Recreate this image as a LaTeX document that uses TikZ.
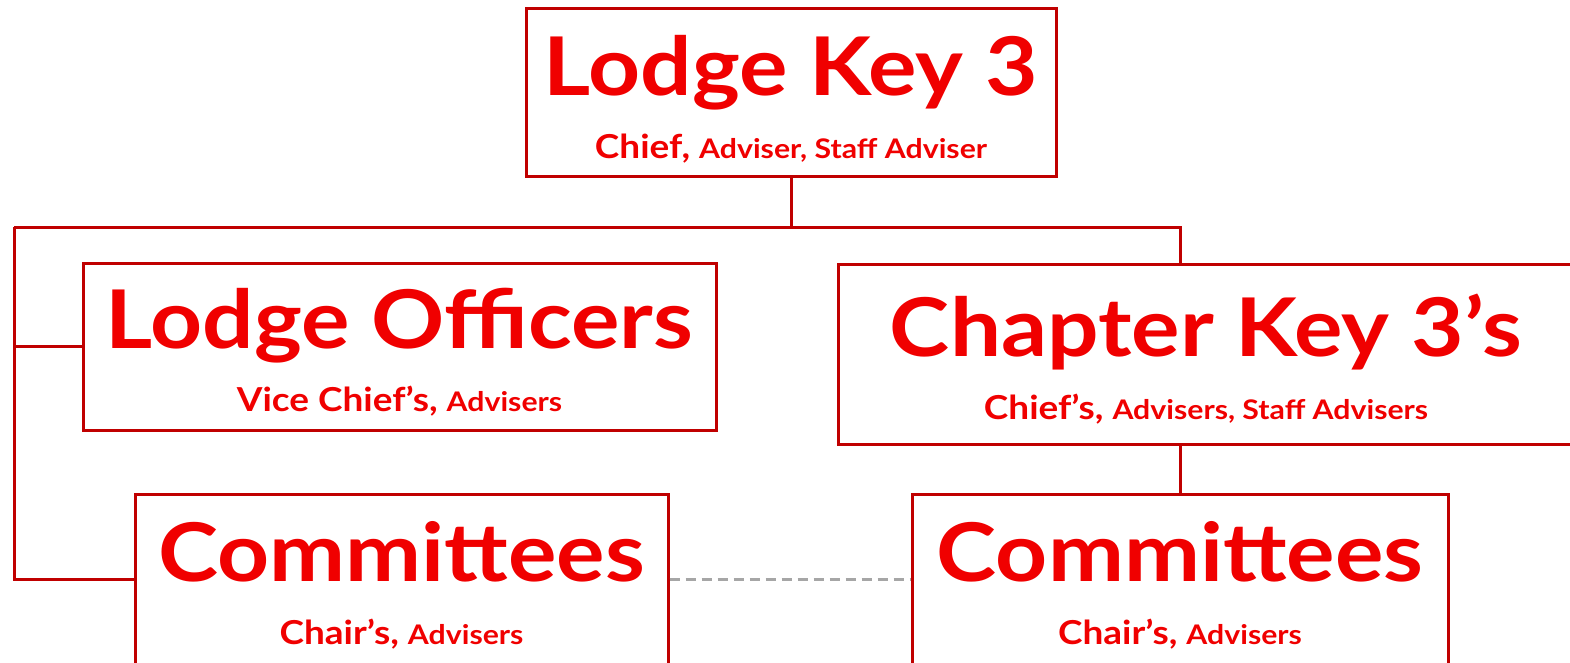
\documentclass[tikz,border=0pt]{standalone}
\usepackage{fontspec}
\usepackage{xcolor}
\setmainfont{Lato}[FakeStretch=1.12]
\usetikzlibrary{positioning}

\definecolor{boxred}{RGB}{192,0,0}
\definecolor{textred}{RGB}{240,0,0}
\definecolor{linkgray}{RGB}{166,166,166}

%% the strut pushes both lines a little down in the box
\newcommand{\bigname}[1]{{\rule{0pt}{72pt}\fontsize{81}{63}\selectfont #1}}
\newcommand{\rolesize}{\fontsize{33}{63}\selectfont}
\newcommand{\smallrole}{\fontsize{27}{63}\selectfont}

\tikzset{
  orgbox/.style={draw=boxred, line width=3pt, fill=white, inner sep=0pt,
    align=center, text=textred, font=\bfseries\rolesize},
  orgline/.style={draw=boxred, line width=3pt},
  peerline/.style={draw=linkgray, line width=3pt, dash pattern=on 10pt off 6pt}
}

\begin{document}
\begin{tikzpicture}[x=1pt,y=-1pt]
      \useasboundingbox (0,0) rectangle (1570,663);
      \clip (0,0) rectangle (1570,663);

      \node (key3) [orgbox, minimum width=530pt, minimum height=168pt] at (791,93)
        {\bigname{Lodge Key 3}\\ Chief, {\smallrole Adviser, Staff Adviser}};
      \node (officers) [orgbox, minimum width=633pt, minimum height=167pt] at (399.5,346.5)
        {\bigname{Lodge Officers}\\ Vice Chief's, {\smallrole Advisers}};
      \node (chapter) [orgbox, minimum width=736pt, minimum height=180pt] at (1206,354)
        {\bigname{Chapter Key 3's}\\ Chief's, {\smallrole Advisers, Staff Advisers}};
      \node (comL) [orgbox, minimum width=533pt, minimum height=170pt] at (401.5,579)
        {\bigname{Committees}\\ Chair's, {\smallrole Advisers}};
      \node (comR) [orgbox, minimum width=536pt, minimum height=170pt] at (1180,579)
        {\bigname{Committees}\\ Chair's, {\smallrole Advisers}};

      \coordinate (busL) at (14,227);
      \coordinate (busR) at (1180,227);

      %% \draw (key3.south) -- ++(0,-50pt);
      \draw[orgline] (key3.south) -- (key3.south |- busL);
      \draw[orgline] (busL) -- (busR) -- (busR |- chapter.north);
      \draw[orgline] (busL) |- (officers.west);
      \draw[orgline] (busL) |- (comL.west);
      \draw[orgline] (chapter.south -| comR.north) -- (comR.north);
      \draw[peerline] (comL.east) -- (comR.west);

    \end{tikzpicture}
\end{document}
